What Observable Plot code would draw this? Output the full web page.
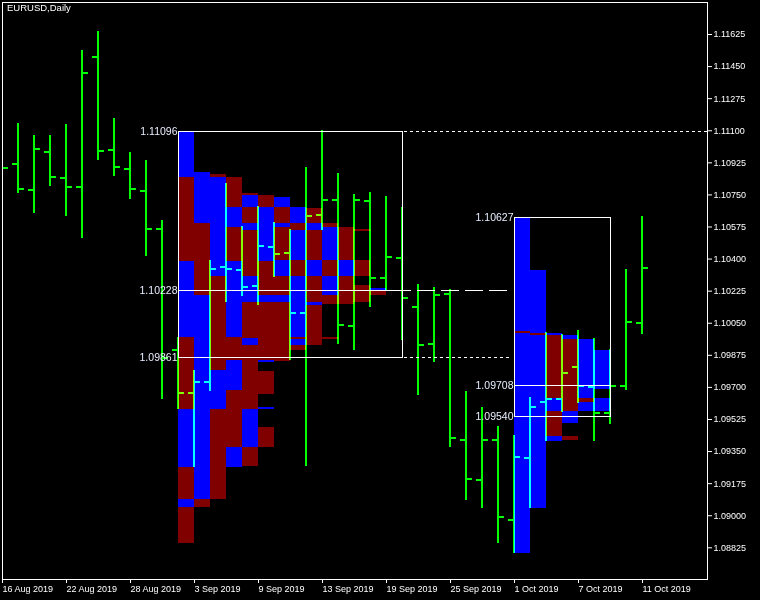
<!DOCTYPE html>
<html><head><meta charset="utf-8">
<style>html,body{margin:0;padding:0;background:#000;overflow:hidden}</style>
<script src="https://cdn.jsdelivr.net/npm/d3@7"></script>
<script src="https://cdn.jsdelivr.net/npm/@observablehq/plot@0.6"></script>
</head><body><div id="chart"></div>
<script>
// Daily EURUSD bars (trading days)
const dates = ["16 Aug 2019","19 Aug 2019","20 Aug 2019","21 Aug 2019","22 Aug 2019","23 Aug 2019","26 Aug 2019","27 Aug 2019","28 Aug 2019","29 Aug 2019","30 Aug 2019",
  "2 Sep 2019","3 Sep 2019","4 Sep 2019","5 Sep 2019","6 Sep 2019","9 Sep 2019","10 Sep 2019","11 Sep 2019","12 Sep 2019","13 Sep 2019","16 Sep 2019","17 Sep 2019","18 Sep 2019","19 Sep 2019","20 Sep 2019","23 Sep 2019","24 Sep 2019","25 Sep 2019","26 Sep 2019","27 Sep 2019","30 Sep 2019",
  "1 Oct 2019","2 Oct 2019","3 Oct 2019","4 Oct 2019","7 Oct 2019","8 Oct 2019","9 Oct 2019","10 Oct 2019","11 Oct 2019"];
const open  = [1.11060,1.10918,1.10774,1.10981,1.10841,1.10792,1.11501,1.10994,1.10890,1.10770,1.10563,1.09901,1.09665,1.09728,1.10356,1.10338,1.10252,1.10462,1.10432,1.10101,1.10639,1.10720,1.10034,1.10713,1.10296,1.10405,1.10138,1.09936,1.10207,1.09410,1.09194,1.09410,1.08974,1.09314,1.09619,1.09634,1.09810,1.09698,1.09556,1.09707,1.10051];
const high  = [1.11130,1.11138,1.11074,1.11074,1.11134,1.11538,1.11641,1.11165,1.10980,1.10938,1.10610,1.09974,1.09792,1.10392,1.10810,1.10578,1.10687,1.10601,1.10563,1.10899,1.11101,1.10865,1.10752,1.10763,1.10741,1.10680,1.10261,1.10245,1.10232,1.09678,1.09590,1.09487,1.09438,1.09643,1.09998,1.09987,1.10010,1.09965,1.09907,1.10343,1.10632];
const low   = [1.10660,1.10756,1.10650,1.10798,1.10634,1.10514,1.10939,1.10852,1.10727,1.10416,1.09632,1.09578,1.09262,1.09679,1.10165,1.10196,1.10147,1.10301,1.09847,1.09269,1.10556,1.09934,1.09901,1.10134,1.10228,1.09956,1.09656,1.09834,1.09374,1.09083,1.09041,1.08847,1.08792,1.09038,1.09406,1.09565,1.09614,1.09406,1.09496,1.09683,1.09987];
const close = [1.10896,1.10780,1.10999,1.10847,1.10792,1.11414,1.10987,1.10901,1.10780,1.10563,1.09860,1.09665,1.09728,1.10345,1.10343,1.10247,1.10467,1.10425,1.10105,1.10634,1.10720,1.10039,1.10720,1.10296,1.10407,1.10186,1.09929,1.10203,1.09423,1.09198,1.09410,1.08992,1.09319,1.09592,1.09633,1.09777,1.09707,1.09558,1.09707,1.10056,1.10348];

// axis ticks
const xTickIdx = [0,4,8,12,16,20,24,28,32,36,40];
const xTickLabels = ["16 Aug 2019","22 Aug 2019","28 Aug 2019","3 Sep 2019","9 Sep 2019","13 Sep 2019","19 Sep 2019","25 Sep 2019","1 Oct 2019","7 Oct 2019","11 Oct 2019"];
const yTicks = [1.08825,1.09000,1.09175,1.09350,1.09525,1.09700,1.09875,1.10050,1.10225,1.10400,1.10575,1.10750,1.10925,1.11100,1.11275,1.11450,1.11625];

// profile boxes: first/last bar index, and levels (top, POC, bottom)
const box1Range = [11, 25];
const box1Levels = [1.11096, 1.10228, 1.09861];
const box2Range = [32, 38];
const box2Levels = [1.10627, 1.09708, 1.09540];

// profile cells: [column, top price, bottom price, colour code]
const profile1 = [
 [0,1.11096,1.10843,"B"],[0,1.10843,1.10387,"R"],[0,1.10387,1.09972,"B"],[0,1.09972,1.09579,"R"],[0,1.09579,1.09263,"B"],[0,1.09263,1.09088,"R"],[0,1.09088,1.09045,"B"],[0,1.09045,1.08849,"R"],
 [1,1.10874,1.10594,"B"],[1,1.10594,1.10201,"R"],[1,1.10201,1.09088,"B"],[1,1.09088,1.09045,"R"],
 [2,1.10861,1.10843,"R"],[2,1.10843,1.10305,"B"],[2,1.10305,1.09792,"R"],[2,1.09792,1.09579,"B"],[2,1.09579,1.09088,"R"],
 [3,1.10843,1.10681,"R"],[3,1.10681,1.10572,"B"],[3,1.10572,1.10387,"R"],[3,1.10387,1.09972,"B"],[3,1.09972,1.09847,"R"],[3,1.09847,1.09683,"B"],[3,1.09683,1.09372,"R"],[3,1.09372,1.09263,"B"],
 [4,1.10758,1.10747,"R"],[4,1.10747,1.10681,"B"],[4,1.10681,1.10594,"R"],[4,1.10594,1.10556,"B"],[4,1.10556,1.10305,"R"],[4,1.10305,1.10163,"B"],[4,1.10163,1.09967,"R"],[4,1.09967,1.09929,"B"],[4,1.09929,1.09579,"R"],[4,1.09579,1.09372,"B"],[4,1.09372,1.09269,"R"],
 [5,1.10747,1.10681,"R"],[5,1.10681,1.10387,"B"],[5,1.10387,1.10201,"R"],[5,1.10201,1.10163,"B"],[5,1.10163,1.09847,"R"],[5,1.09847,1.09836,"B"],[5,1.09787,1.09661,"R"],[5,1.09590,1.09579,"B"],[5,1.09481,1.09372,"R"],
 [6,1.10736,1.10681,"B"],[6,1.10681,1.10594,"R"],[6,1.10594,1.10572,"B"],[6,1.10572,1.10392,"R"],[6,1.10392,1.10305,"B"],[6,1.10305,1.10201,"R"],[6,1.10201,1.10163,"B"],[6,1.10163,1.09841,"R"],
 [7,1.10681,1.10594,"B"],[7,1.10594,1.10556,"R"],[7,1.10556,1.10392,"B"],[7,1.10392,1.10305,"R"],[7,1.10305,1.09972,"B"],[7,1.09972,1.09961,"R"],[7,1.09961,1.09929,"B"],[7,1.09929,1.09901,"R"],
 [8,1.10676,1.10594,"R"],[8,1.10594,1.10556,"B"],[8,1.10556,1.10392,"R"],[8,1.10392,1.10305,"B"],[8,1.10305,1.10163,"R"],[8,1.10163,1.10147,"B"],[8,1.10147,1.09929,"R"],
 [9,1.10594,1.10572,"R"],[9,1.10572,1.10392,"B"],[9,1.10392,1.10305,"R"],[9,1.10305,1.10201,"B"],[9,1.10201,1.10152,"R"],[9,1.09972,1.09964,"R"],
 [10,1.10572,1.10392,"R"],[10,1.10392,1.10305,"B"],[10,1.10305,1.10152,"R"],
 [11,1.10559,1.10550,"R"],[11,1.10392,1.10305,"R"],[11,1.10256,1.10163,"R"],
 [12,1.10240,1.10223,"B"],[12,1.10223,1.10201,"R"]
];
const profile2 = [
 [0,1.10627,1.10005,"B"],[0,1.10005,1.09994,"R"],[0,1.09994,1.08794,"B"],
 [1,1.10338,1.09994,"B"],[1,1.09994,1.09983,"R"],[1,1.09983,1.09039,"B"],
 [2,1.09994,1.09983,"B"],[2,1.09983,1.09639,"R"],[2,1.09639,1.09569,"B"],[2,1.09569,1.09432,"R"],[2,1.09432,1.09405,"B"],
 [3,1.09983,1.09961,"B"],[3,1.09961,1.09569,"R"],[3,1.09569,1.09503,"B"],[3,1.09432,1.09410,"R"],
 [4,1.09961,1.09639,"B"],[4,1.09639,1.09618,"R"],[4,1.09618,1.09569,"B"],
 [5,1.09901,1.09689,"B"],[5,1.09639,1.09569,"B"]
];

const colourOf = c => c === "B" ? "#0000ff" : "#800000";
const cells = [
  ...profile1.map(d => ({x1: box1Range[0] + d[0], x2: box1Range[0] + d[0] + 1, y1: d[1], y2: d[2], fill: colourOf(d[3])})),
  ...profile2.map(d => ({x1: box2Range[0] + d[0], x2: box2Range[0] + d[0] + 1, y1: d[1], y2: d[2], fill: colourOf(d[3])}))
];
const bars = dates.map((d, i) => ({i, date: d, o: open[i], h: high[i], l: low[i], c: close[i]}));
const labels = [
  ...box1Levels.map(v => ({x: box1Range[0], y: v})),
  ...box2Levels.map(v => ({x: box2Range[0], y: v}))
];
const XMAX = 44.0625;
const tickOff = 1/16, tickLen = 6/16;
const labelColor = "#e8eeff";

const chart = Plot.plot({
  width: 760, height: 600,
  marginLeft: 2, marginRight: 53, marginTop: 2, marginBottom: 21,
  x: {domain: [0, XMAX]},
  y: {domain: [1.086521, 1.117996]},
  style: {background: "#000", color: "#fff", fontFamily: "'Liberation Sans', Arial, sans-serif", fontSize: "9px"},
  marks: [
    // profile cells
    Plot.rect(cells, {x1: "x1", x2: "x2", y1: "y1", y2: "y2", fill: "fill", shapeRendering: "crispEdges"}),
    // boxes
    Plot.rect([box1Range, box2Range].map((r, k) => ({x1: r[0], x2: r[1], y1: [box1Levels, box2Levels][k][0], y2: [box1Levels, box2Levels][k][2]})),
      {x1: "x1", x2: "x2", y1: "y1", y2: "y2", fill: "none", stroke: "#fff", strokeWidth: 1, dx: 0.5, dy: 0.5, shapeRendering: "crispEdges"}),
    // POC lines
    Plot.ruleY([{y: box1Levels[1], x1: box1Range[0], x2: box1Range[1]}, {y: box2Levels[1], x1: box2Range[0], x2: box2Range[1]}],
      {y: "y", x1: "x1", x2: "x2", stroke: "#fff", strokeWidth: 1, shapeRendering: "crispEdges"}),
    // extensions
    Plot.ruleY([box1Levels[1]], {x1: box1Range[1], x2: 31.66, stroke: "#fff", strokeDasharray: "18,6", strokeDashoffset: 9, shapeRendering: "crispEdges"}),
    Plot.ruleY([box1Levels[0]], {x1: box1Range[1] + 0.1, x2: XMAX, stroke: "#fff", strokeDasharray: "3,3", shapeRendering: "crispEdges"}),
    Plot.ruleY([box1Levels[2]], {x1: box1Range[1] + 0.1, x2: 31.85, stroke: "#fff", strokeDasharray: "3,3", shapeRendering: "crispEdges"}),
    // level labels
    Plot.text(labels, {x: "x", y: "y", text: d => d.y.toFixed(5), textAnchor: "end", lineAnchor: "middle", dx: -1, fill: labelColor, fontSize: 10.5}),
    // OHLC bars (blended like MT4 XOR drawing)
    Plot.ruleX(bars, {x: "i", y1: "l", y2: "h", stroke: "#00ff00", strokeWidth: 2, dx: -0.5, clip: true, shapeRendering: "crispEdges", ariaDescription: "ohlc"}),
    Plot.ruleY(bars, {y: "o", x1: d => d.i - tickLen, x2: d => d.i - tickOff, stroke: "#00ff00", strokeWidth: 2, dy: -0.5, clip: true, shapeRendering: "crispEdges", ariaDescription: "ohlc"}),
    Plot.ruleY(bars, {y: "c", x1: d => d.i + tickOff, x2: d => d.i + tickLen, stroke: "#00ff00", strokeWidth: 2, dy: -0.5, clip: true, shapeRendering: "crispEdges", ariaDescription: "ohlc"}),
    // title
    Plot.text(["EURUSD,Daily"], {frameAnchor: "top-left", dx: 4.5, dy: 2, textAnchor: "start", lineAnchor: "top", fill: "#fff", fontSize: 9.5}),
    // frame and axes
    Plot.frame({stroke: "#fff", strokeWidth: 1}),
    Plot.axisY({anchor: "right", ticks: yTicks, tickFormat: d => d.toFixed(5), tickSize: 4, tickPadding: 2, label: null, fontSize: 9}),
    Plot.axisX({anchor: "bottom", ticks: xTickIdx, tickFormat: d => xTickLabels[xTickIdx.indexOf(d)], textAnchor: "start", tickSize: 4, tickPadding: 2, label: null, fontSize: 9})
  ]
});
// blend the bar groups with what lies beneath (green over blue -> cyan, over maroon -> chartreuse)
chart.querySelectorAll('[aria-description="ohlc"]').forEach(el => {
  let n = el;
  while (n.parentNode && n.parentNode !== chart) n = n.parentNode;
  n.style.mixBlendMode = "lighten";
  el.style.mixBlendMode = "lighten";
});
document.getElementById("chart").appendChild(chart);
</script>
</body></html>
